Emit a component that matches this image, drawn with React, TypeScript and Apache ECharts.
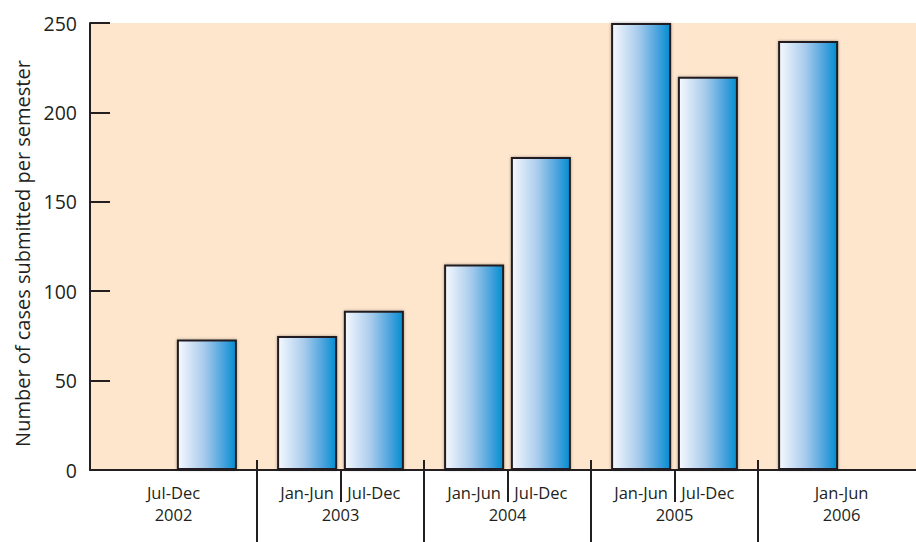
import React, { useEffect, useRef } from "react";
import * as echarts from "echarts";

// Semester data: half-year period, calendar year and number of cases submitted
const semesters = ["Jul-Dec", "Jan-Jun", "Jul-Dec", "Jan-Jun", "Jul-Dec", "Jan-Jun", "Jul-Dec", "Jan-Jun"];
const years = [2002, 2003, 2003, 2004, 2004, 2005, 2005, 2006];
const cases = [73, 75, 89, 115, 175, 250, 220, 240];
const yearLabels = [2002, 2003, 2004, 2005, 2006];
const yMax = 250;
const yStep = 50;

const FONT = "'Open Sans', 'Noto Sans', sans-serif";
const INK = "#231f20";
// the last year's band runs past the right edge of the chart
const VISIBLE_YEARS = 4.946;

export default function App() {
  const ref = useRef<HTMLDivElement>(null);

  useEffect(() => {
    if (!ref.current) return;
    const chart = echarts.init(ref.current, undefined, { renderer: "svg" });

    // bar position inside its year: first half left, second half right
    const barX = years.map((y, i) => y + (semesters[i] === "Jan-Jun" ? 0.3 : 0.7));
    const perYear: Record<number, number> = {};
    years.forEach((y) => (perYear[y] = (perYear[y] || 0) + 1));
    const labelX = years.map((y, i) => (perYear[y] === 1 ? y + 0.5 : barX[i]));
    const labelText: Record<string, string> = {};
    labelX.forEach((x, i) => (labelText[x.toFixed(2)] = semesters[i]));
    const halfSplits = yearLabels.filter((y) => perYear[y] === 2).map((y) => y + 0.5);
    const yearSplits = yearLabels.slice(1);
    const yearCenters = yearLabels.map((y) => y + 0.5);
    const xMin = yearLabels[0];
    const xMax = xMin + VISIBLE_YEARS;

    chart.setOption({
      animation: false,
      grid: {
        left: 90,
        right: 0,
        top: 23,
        bottom: 72,
        show: true,
        backgroundColor: "#fee6cd",
        borderWidth: 0,
      },
      xAxis: [
        {
          type: "value",
          min: xMin,
          max: xMax,
          position: "bottom",
          splitLine: { show: false },
          axisLine: { show: true, lineStyle: { color: INK, width: 2 } },
          axisTick: {
            show: true,
            customValues: halfSplits,
            length: 32,
            lineStyle: { color: INK, width: 2 },
          },
          axisLabel: {
            customValues: labelX,
            formatter: (v: number) => labelText[v.toFixed(2)] || "",
            margin: 14,
            color: INK,
            fontSize: 16.5,
            fontFamily: FONT,
          },
        },
        {
          type: "value",
          min: xMin,
          max: xMax,
          position: "bottom",
          offset: -10,
          splitLine: { show: false },
          axisLine: { show: false },
          axisTick: {
            show: true,
            customValues: yearSplits,
            length: 95,
            lineStyle: { color: INK, width: 2 },
          },
          axisLabel: {
            customValues: yearCenters,
            formatter: (v: number) => String(Math.floor(v)),
            margin: 46,
            color: INK,
            fontSize: 16.5,
            fontFamily: FONT,
          },
        },
      ],
      yAxis: {
        type: "value",
        min: 0,
        max: yMax,
        interval: yStep,
        name: "Number of cases submitted per semester",
        nameLocation: "middle",
        nameRotate: 90,
        nameGap: 53,
        nameTextStyle: { color: INK, fontSize: 20, fontFamily: FONT, padding: [0, 14, 0, 0] },
        splitLine: { show: false },
        axisLine: { show: true, lineStyle: { color: INK, width: 2 } },
        axisTick: { show: true, inside: true, length: 20, lineStyle: { color: INK, width: 2 } },
        axisLabel: { color: INK, fontSize: 19.5, fontFamily: FONT, margin: 13 },
      },
      series: [
        {
          type: "bar",
          xAxisIndex: 0,
          barWidth: 60,
          data: cases.map((c, i) => [barX[i], c]),
          itemStyle: {
            color: new echarts.graphic.LinearGradient(0, 0, 1, 0, [
              { offset: 0, color: "#f6f9fe" },
              { offset: 0.45, color: "#a8cbec" },
              { offset: 0.8, color: "#45a1dc" },
              { offset: 1, color: "#008ed1" },
            ]),
            borderColor: INK,
            borderWidth: 2,
            shadowColor: "rgba(0,0,0,0.35)",
            shadowBlur: 3,
          },
        },
      ],
    });

    return () => chart.dispose();
  }, []);

  return (
    <div
      ref={ref}
      style={{ position: "fixed", left: 0, top: 0, width: 916, height: 542, background: "#ffffff" }}
    />
  );
}
